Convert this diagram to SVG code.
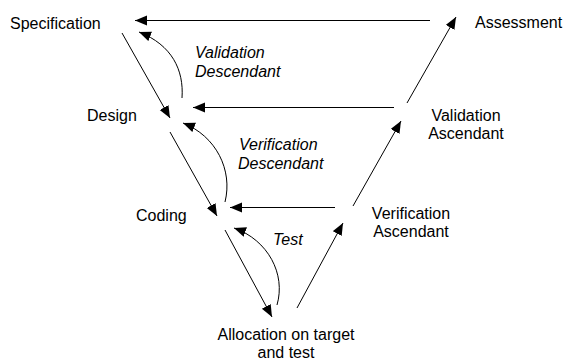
<svg xmlns="http://www.w3.org/2000/svg" width="564" height="361" viewBox="0 0 564 361">
  <style>
    text { font-family: "Liberation Sans", Arial, sans-serif; font-size: 16px; fill: #000; }
    .lbl { font-style: italic; }
    .mid { text-anchor: middle; }
    .edge { fill: none; stroke: #000; stroke-width: 1; marker-end: url(#head); }
  </style>
  <defs>
    <marker id="head" markerUnits="userSpaceOnUse" markerWidth="13" markerHeight="11" refX="12" refY="5" orient="auto">
      <path d="M0,0 L12,5 L0,10 z" fill="#000"/>
    </marker>
  </defs>
  <rect width="564" height="361" fill="#fff"/>

  <!-- phase nodes -->
  <g id="specification"><text x="10" y="29">Specification</text></g>
  <g id="design"><text x="87" y="121">Design</text></g>
  <g id="coding"><text x="136" y="221">Coding</text></g>
  <g id="allocation"><text class="mid" x="286" y="340">Allocation on target</text><text class="mid" x="286" y="358">and test</text></g>
  <g id="verification-ascendant"><text class="mid" x="411" y="219">Verification</text><text class="mid" x="411" y="237">Ascendant</text></g>
  <g id="validation-ascendant"><text class="mid" x="466" y="121">Validation</text><text class="mid" x="466" y="139">Ascendant</text></g>
  <g id="assessment"><text x="475" y="28">Assessment</text></g>

  <!-- connectors -->
  <g id="connectors">
    <!-- descending branch -->
    <path class="edge" d="M122,33 L170,118"/>
    <path class="edge" d="M170,132 L217,216"/>
    <path class="edge" d="M225,230 L272,317"/>
    <!-- ascending branch -->
    <path class="edge" d="M297,308 L343,223"/>
    <path class="edge" d="M353,206 L401,121"/>
    <path class="edge" d="M407,103 L456,17"/>
    <!-- feedback to the descending phases -->
    <path class="edge" d="M430,20.5 L135,20.5"/>
    <path class="edge" d="M394,107.5 L193,107.5"/>
    <path class="edge" d="M335,207.5 L230,207.5"/>
    <!-- curved check loops -->
    <path class="edge" d="M182,98 C184,70 172,45 139,32"/>
    <path class="edge" d="M225,202 C233,170 216,136 183,123"/>
    <path class="edge" d="M277,305 C286,274 268,240 234,228"/>
  </g>

  <!-- loop labels -->
  <g id="loop-labels">
    <text class="lbl" x="195" y="58">Validation</text>
    <text class="lbl" x="195" y="77">Descendant</text>
    <text class="lbl" x="239" y="150">Verification</text>
    <text class="lbl" x="238" y="169">Descendant</text>
    <text class="lbl" x="273" y="245">Test</text>
  </g>
</svg>
